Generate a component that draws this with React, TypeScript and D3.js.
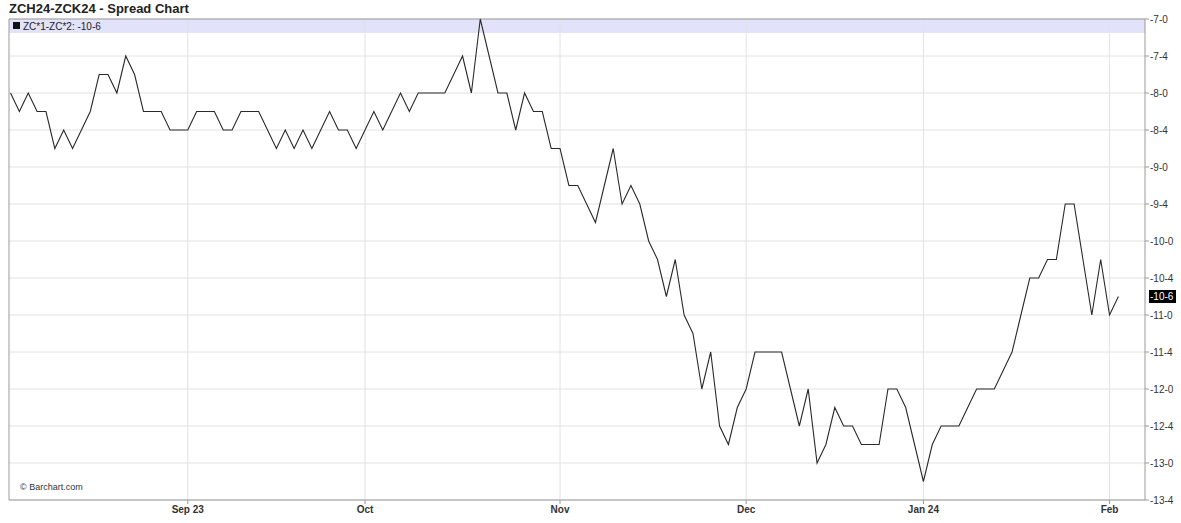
import React from "react";
import * as d3 from "d3";

const values: number[] = [
  -8.0, -8.25, -8.0, -8.25, -8.25, -8.75, -8.5, -8.75, -8.5, -8.25,
  -7.75, -7.75, -8.0, -7.5, -7.75, -8.25, -8.25, -8.25, -8.5, -8.5,
  -8.5, -8.25, -8.25, -8.25, -8.5, -8.5, -8.25, -8.25, -8.25, -8.5,
  -8.75, -8.5, -8.75, -8.5, -8.75, -8.5, -8.25, -8.5, -8.5, -8.75,
  -8.5, -8.25, -8.5, -8.25, -8.0, -8.25, -8.0, -8.0, -8.0, -8.0,
  -7.75, -7.5, -8.0, -7.0, -7.5, -8.0, -8.0, -8.5, -8.0, -8.25,
  -8.25, -8.75, -8.75, -9.25, -9.25, -9.5, -9.75, -9.25, -8.75, -9.5,
  -9.25, -9.5, -10.0, -10.25, -10.75, -10.25, -11.0, -11.25, -12.0, -11.5,
  -12.5, -12.75, -12.25, -12.0, -11.5, -11.5, -11.5, -11.5, -12.0, -12.5,
  -12.0, -13.0, -12.75, -12.25, -12.5, -12.5, -12.75, -12.75, -12.75, -12.0,
  -12.0, -12.25, -12.75, -13.25, -12.75, -12.5, -12.5, -12.5, -12.25, -12.0,
  -12.0, -12.0, -11.75, -11.5, -11.0, -10.5, -10.5, -10.25, -10.25, -9.5,
  -9.5, -10.25, -11.0, -10.25, -11.0, -10.75,
];

const monthTickIndex: number[] = [20, 40, 62, 83, 103, 124];
const monthTickLabels: string[] = ["Sep 23", "Oct", "Nov", "Dec", "Jan 24", "Feb"];
const yTickValues: number[] = d3.range(-13.5, -6.99, 0.5);
const lastValue = values[values.length - 1];

function fmt8(v: number): string {
  const a = Math.abs(v);
  const whole = Math.floor(a + 1e-9);
  const eighths = Math.round((a - whole) * 8);
  return (v < 0 ? "-" : "") + whole + "-" + eighths;
}

export default function App() {
  const W = 1181, H = 523;
  const left = 9, right = 1145, top = 19, bottom = 500;
  const x = d3.scaleLinear().domain([-0.17, 128]).range([left, right]);
  const y = d3.scaleLinear().domain([-13.5, -7]).range([bottom, top]);
  const line = d3.line<number>().x((_, i) => x(i)).y((d) => y(d));
  const font = "Arial, 'Liberation Sans', sans-serif";

  return (
    <div style={{ position: "absolute", left: 0, top: 0 }}>
      <svg width={W} height={H} style={{ display: "block", fontFamily: font }}>
        <rect x={0} y={0} width={W} height={H} fill="#fff" />
        <text x={9} y={13} fontSize={13} fontWeight="bold" fill="#222">
          ZCH24-ZCK24 - Spread Chart
        </text>
        {/* legend band */}
        <rect x={left} y={top} width={right - left} height={14} fill="#e2e2fa" />
        {/* grid */}
        {yTickValues.map((v) => (
          <line key={"gy" + v} x1={left} x2={right} y1={y(v)} y2={y(v)} stroke="#e2e2e2" strokeWidth={1} />
        ))}
        {monthTickIndex.map((i) => (
          <line key={"gx" + i} x1={x(i)} x2={x(i)} y1={top} y2={bottom} stroke="#e2e2e2" strokeWidth={1} />
        ))}
        {/* border */}
        <line x1={left} x2={right} y1={top} y2={top} stroke="#9a9a9a" />
        <line x1={left} x2={left} y1={top} y2={bottom} stroke="#9a9a9a" />
        <line x1={left} x2={right} y1={bottom} y2={bottom} stroke="#9a9a9a" />
        <line x1={right} x2={right} y1={top} y2={bottom} stroke="#9a9a9a" />
        {/* legend text */}
        <rect x={13} y={22} width={7} height={7} fill="#111" />
        <text x={23} y={29.5} fontSize={10} fill="#222">
          ZC*1-ZC*2: {fmt8(lastValue)}
        </text>
        {/* series */}
        <path d={line(values) || ""} fill="none" stroke="#2a2a2a" strokeWidth={1.1} />
        {/* y axis */}
        {yTickValues.map((v) => (
          <g key={"yt" + v}>
            <line x1={right} x2={right + 4} y1={y(v)} y2={y(v)} stroke="#9a9a9a" />
            <text x={right + 5} y={y(v) + 3.5} fontSize={10} fill="#333">
              {fmt8(v)}
            </text>
          </g>
        ))}
        <rect x={right + 4} y={y(lastValue) - 6.5} width={27} height={13} fill="#000" />
        <text x={right + 5} y={y(lastValue) + 3.5} fontSize={10} fill="#fff">
          {fmt8(lastValue)}
        </text>
        {/* x axis */}
        {monthTickIndex.map((i, k) => (
          <g key={"xt" + i}>
            <line x1={x(i)} x2={x(i)} y1={bottom} y2={bottom + 4} stroke="#9a9a9a" />
            <text x={x(i)} y={bottom + 13} fontSize={10} fontWeight="bold" fill="#333" textAnchor="middle">
              {monthTickLabels[k]}
            </text>
          </g>
        ))}
        <text x={20} y={490} fontSize={9} fill="#333">
          © Barchart.com
        </text>
      </svg>
    </div>
  );
}
